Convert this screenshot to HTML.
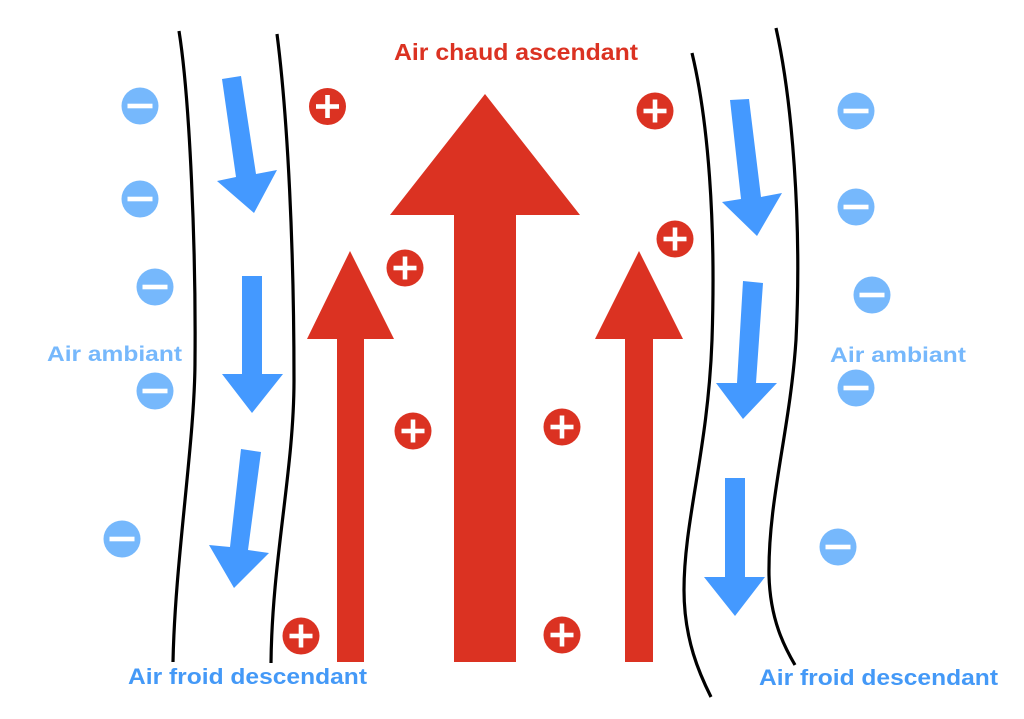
<!DOCTYPE html>
<html><head><meta charset="utf-8"><style>
html,body{margin:0;padding:0;background:#fff;width:1024px;height:719px;overflow:hidden}
svg{display:block}
text{font-family:"Liberation Sans",Arial,sans-serif;font-weight:bold}
</style></head><body>
<svg width="1024" height="719" viewBox="0 0 1024 719" xmlns="http://www.w3.org/2000/svg">
<defs>
<g id="plus"><circle cx="0" cy="0" r="18.5" fill="#DB3222"/><rect x="-11.5" y="-2.3" width="23" height="4.6" fill="#fff"/><rect x="-2.3" y="-11.5" width="4.6" height="23" fill="#fff"/></g>
<g id="minus"><circle cx="0" cy="0" r="18.5" fill="#76B8FC"/><rect x="-12.5" y="-2.3" width="25" height="4.6" fill="#fff"/></g>
</defs>
<!-- black curves -->
<g fill="none" stroke="#000" stroke-width="3.2" stroke-linecap="butt">
<path d="M179,31 C190,100 196,250 195,360 C195,440 175,560 173,662"/>
<path d="M277,34 C288,120 294,250 294,380 C294,470 272,560 271,663"/>
<path d="M692,53 C708,120 716,220 712,340 C708,450 684,520 684,590 C684,640 700,675 711,697"/>
<path d="M776,28 C792,100 802,220 796,340 C790,430 768,500 769,575 C770,620 785,648 795,665"/>
</g>
<!-- red arrows -->
<g fill="#DB3222">
<polygon points="485,94 580,215 516,215 516,662 454,662 454,215 390,215"/>
<polygon points="350,251 394,339 364,339 364,662 337,662 337,339 307,339"/>
<polygon points="639,251 683,339 653,339 653,662 625,662 625,339 595,339"/>
</g>
<!-- blue arrows -->
<g fill="#4499FF">
<polygon points="222,79 241,76 256,174 277,170 254,213 217,181 236,177"/>
<polygon points="242,276 262,276 262,374 283,374 252,413 222,374 242,374"/>
<polygon points="241,449 261,452 248,550 269,553 234,588 209,545 230,547"/>
<polygon points="730,100 749,99 761,197 782,193 757,236 722,202 741,199"/>
<polygon points="743,281 763,283 756,383 777,383 743,419 716,383 737,383"/>
<polygon points="725,478 745,478 745,577 765,577 735,616 704,577 725,577"/>
</g>
<!-- plus circles -->
<use href="#plus" x="327.5" y="106.5"/>
<use href="#plus" x="655" y="111"/>
<use href="#plus" x="405" y="268"/>
<use href="#plus" x="675" y="239"/>
<use href="#plus" x="413" y="431"/>
<use href="#plus" x="562" y="427"/>
<use href="#plus" x="301" y="636"/>
<use href="#plus" x="562" y="635"/>
<!-- minus circles -->
<use href="#minus" x="140" y="106"/>
<use href="#minus" x="140" y="199"/>
<use href="#minus" x="155" y="287"/>
<use href="#minus" x="155" y="391"/>
<use href="#minus" x="122" y="539"/>
<use href="#minus" x="856" y="111"/>
<use href="#minus" x="856" y="207"/>
<use href="#minus" x="872" y="295"/>
<use href="#minus" x="856" y="388"/>
<use href="#minus" x="838" y="547"/>
<!-- labels -->
<text x="394" y="60" font-size="23" fill="#DB3222" textLength="244" lengthAdjust="spacingAndGlyphs">Air chaud ascendant</text>
<text x="47" y="361" font-size="21" fill="#76B8FC" textLength="135" lengthAdjust="spacingAndGlyphs">Air ambiant</text>
<text x="830" y="362" font-size="21" fill="#76B8FC" textLength="136" lengthAdjust="spacingAndGlyphs">Air ambiant</text>
<text x="128" y="684" font-size="22" fill="#4499F7" textLength="239" lengthAdjust="spacingAndGlyphs">Air froid descendant</text>
<text x="759" y="685" font-size="22" fill="#4499F7" textLength="239" lengthAdjust="spacingAndGlyphs">Air froid descendant</text>
</svg>
</body></html>
